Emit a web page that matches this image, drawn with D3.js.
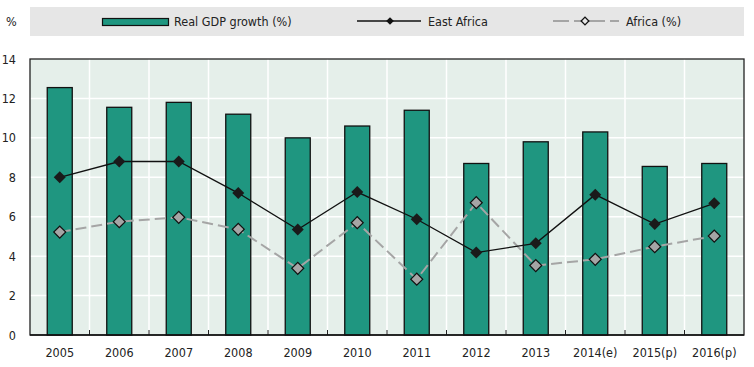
<!DOCTYPE html>
<html><head><meta charset="utf-8">
<script src="https://cdn.jsdelivr.net/npm/d3@7"></script>
<style>
body{margin:0;background:#fff;}
text{font-family:"DejaVu Sans Condensed","Liberation Sans",sans-serif;font-size:12.5px;fill:#222;}
</style></head>
<body><svg id="c" width="754" height="367"></svg>
<script>
const categories = ["2005","2006","2007","2008","2009","2010","2011","2012","2013","2014(e)","2015(p)","2016(p)"];
const gdpGrowth = [12.55,11.55,11.8,11.2,10.0,10.6,11.4,8.7,9.8,10.3,8.55,8.7];
const eastAfrica = [8.0,8.8,8.8,7.2,5.35,7.25,5.87,4.18,4.65,7.12,5.63,6.68];
const africa = [5.22,5.75,5.97,5.36,3.38,5.7,2.83,6.71,3.52,3.84,4.48,5.02];
const yTicks = [0,2,4,6,8,10,12,14];
const legendLabels = ["Real GDP growth (%)","East Africa","Africa (%)"];

const svg = d3.select("#c");
const L=30, R=744, T=59, B=335;
const x = d3.scaleBand().domain(categories).range([L,R]).paddingInner(0).paddingOuter(0);
const y = d3.scaleLinear().domain([0,14]).range([B,T]);
const barColor="#1f9680", gray="#a5a5a5";
const diamond = d3.symbol(d3.symbolSquare, 72)();
const diamondSmall = d3.symbol(d3.symbolSquare, 30)();

// legend box
svg.append("rect").attr("x",30).attr("y",7).attr("width",714).attr("height",29).attr("fill","#e6e6e6");
svg.append("text").attr("x",6).attr("y",26).text("%");
const ly = 21;
svg.append("rect").attr("x",102.5).attr("y",18.5).attr("width",66).attr("height",7).attr("fill",barColor).attr("stroke","#111").attr("stroke-width",1.2);
svg.append("text").attr("x",174).attr("y",26).text(legendLabels[0]);
svg.append("line").attr("x1",357).attr("x2",421).attr("y1",ly).attr("y2",ly).attr("stroke","#111").attr("stroke-width",1.5);
svg.append("path").attr("d",diamondSmall).attr("transform",`translate(390,${ly}) rotate(45)`).attr("fill","#111");
svg.append("text").attr("x",428).attr("y",26).text(legendLabels[1]);
svg.append("line").attr("x1",553).attr("x2",619).attr("y1",ly).attr("y2",ly).attr("stroke",gray).attr("stroke-width",1.8).attr("stroke-dasharray","16,5,10,5");
svg.append("path").attr("d",diamondSmall).attr("transform",`translate(585,${ly}) rotate(45)`).attr("fill","#e6e6e6").attr("stroke","#111").attr("stroke-width",1.3);
svg.append("text").attr("x",626).attr("y",26).text(legendLabels[2]);

// plot background
svg.append("rect").attr("x",L).attr("y",T).attr("width",R-L).attr("height",B-T).attr("fill","#e5efea");
svg.append("g").selectAll("line").data(yTicks.slice(1,-1)).join("line")
  .attr("x1",L).attr("x2",R).attr("y1",d=>y(d)).attr("y2",d=>y(d)).attr("stroke","#fff").attr("stroke-width",1.5);
svg.append("g").selectAll("line").data(categories.slice(1)).join("line")
  .attr("x1",d=>x(d)).attr("x2",d=>x(d)).attr("y1",T).attr("y2",B).attr("stroke","#fff").attr("stroke-width",1.5);
svg.append("rect").attr("x",L).attr("y",T).attr("width",R-L).attr("height",B-T).attr("fill","none").attr("stroke","#222").attr("stroke-width",1.3);

// bars
const bw=25;
svg.append("g").selectAll("rect").data(categories).join("rect")
  .attr("x",(d)=>x(d)+x.bandwidth()/2-bw/2).attr("width",bw)
  .attr("y",(d,i)=>y(gdpGrowth[i])).attr("height",(d,i)=>y(0)-y(gdpGrowth[i]))
  .attr("fill",barColor).attr("stroke","#111").attr("stroke-width",1.3);

// bottom axis ticks
svg.append("g").selectAll("line").data(categories.slice(1)).join("line")
  .attr("x1",d=>x(d)).attr("x2",d=>x(d)).attr("y1",B).attr("y2",B-5).attr("stroke","#222").attr("stroke-width",1);
svg.append("line").attr("x1",L).attr("x2",R).attr("y1",B).attr("y2",B).attr("stroke","#111").attr("stroke-width",1.5);

svg.append("g").selectAll("text").data(yTicks).join("text")
  .attr("x",16).attr("y",d=>y(d)+4.5).attr("text-anchor","end").text(d=>d);
svg.append("g").selectAll("text").data(categories).join("text")
  .attr("x",d=>x(d)+x.bandwidth()/2).attr("y",357).attr("text-anchor","middle").text(d=>d);

const cx = d=>x(d)+x.bandwidth()/2;
const line = d3.line().x(d=>cx(d[0])).y(d=>y(d[1]));
svg.append("path").datum(categories.map((c,i)=>[c,africa[i]])).attr("d",line)
  .attr("fill","none").attr("stroke",gray).attr("stroke-width",2).attr("stroke-dasharray","11,5");
svg.append("g").selectAll("path").data(categories).join("path")
  .attr("d",diamond).attr("transform",(d,i)=>`translate(${cx(d)},${y(africa[i])}) rotate(45)`)
  .attr("fill",gray).attr("stroke","#111").attr("stroke-width",1.2);
svg.append("path").datum(categories.map((c,i)=>[c,eastAfrica[i]])).attr("d",line)
  .attr("fill","none").attr("stroke","#111").attr("stroke-width",1.3);
svg.append("g").selectAll("path").data(categories).join("path")
  .attr("d",diamond).attr("transform",(d,i)=>`translate(${cx(d)},${y(eastAfrica[i])}) rotate(45)`)
  .attr("fill","#1a1a1a");
</script></body></html>
